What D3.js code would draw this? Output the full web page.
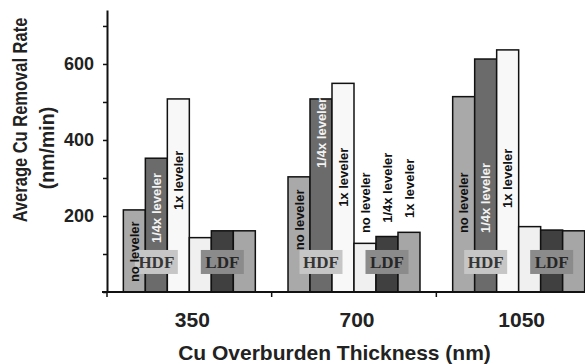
<!DOCTYPE html>
<html>
<head>
<meta charset="utf-8">
<script src="https://cdn.jsdelivr.net/npm/d3@7"></script>
<style>
  html, body { margin: 0; padding: 0; background: #fff; }
  svg { display: block; }
  text { font-family: "Liberation Sans", Arial, Helvetica, sans-serif; font-weight: bold; }
</style>
</head>
<body>
<svg id="chart" width="585" height="364"></svg>
<script>
// Cu overburden thickness groups (nm)
const categories = ["350", "700", "1050"];

// Six bars per group: three HDF runs, then three LDF runs
const seriesNames = ["HDF no leveler", "HDF 1/4x leveler", "HDF 1x leveler",
                     "LDF no leveler", "LDF 1/4x leveler", "LDF 1x leveler"];

// Average Cu removal rate (nm/min)
const hdfNoLeveler      = [216, 303, 514];
const hdfQuarterLeveler = [352, 508, 613];
const hdfFullLeveler    = [508, 549, 637];
const ldfNoLeveler      = [143, 128, 172];
const ldfQuarterLeveler = [161, 146, 163];
const ldfFullLeveler    = [161, 157, 161];

const seriesValues = [hdfNoLeveler, hdfQuarterLeveler, hdfFullLeveler,
                      ldfNoLeveler, ldfQuarterLeveler, ldfFullLeveler];

const barTexts = ["no leveler", "1/4x leveler", "1x leveler",
                  "no leveler", "1/4x leveler", "1x leveler"];
const dfNames = ["HDF", "LDF"];

const yTickValues = [0, 100, 200, 300, 400, 500, 600, 700];
const yTickLabels = ["", "", "200", "", "400", "", "600", ""];

// ---- styling / layout ----
const fills = ["#a9a9a9", "#6b6b6b", "#f8f8f8", "#f0f0f0", "#404040", "#a6a6a6"];
const textFills = ["#111", "#f2f2f2", "#111", "#111", "#111", "#111"];
const boxFills = ["#c6c6c6", "#8b8b8b"];
const boxTextFills = ["#353535", "#262626"];
// lower end of each rotated bar caption, on the value axis (null: no caption)
const captionStart = [
  [26, 129, 216, null, null, null],
  [110, 326, 224, 155, 182, 195],
  [155, 155, 221, null, null, null]
];

const svg = d3.select("#chart");

const x = d3.scaleBand().domain(categories).range([107, 601]).paddingInner(0).paddingOuter(0);
const xSub = d3.scaleBand().domain(d3.range(seriesNames.length))
  .range([0, x.bandwidth()]).paddingInner(0).paddingOuter(0.743);
const y = d3.scaleLinear().domain([0, 742]).range([292, 10]);

// bars
const groups = svg.append("g").selectAll("g")
  .data(categories)
  .join("g")
  .attr("transform", d => `translate(${x(d)},0)`);

groups.selectAll("rect")
  .data((c, gi) => seriesValues.map((vals, si) => ({ si, gi, v: vals[gi] })))
  .join("rect")
  .attr("x", d => xSub(d.si))
  .attr("width", xSub.bandwidth())
  .attr("y", d => y(d.v))
  .attr("height", d => y(0) - y(d.v))
  .attr("fill", d => fills[d.si])
  .attr("stroke", "#111")
  .attr("stroke-width", 1.5);

// HDF / LDF tags across each set of three bars
groups.each(function (c, gi) {
  const g = d3.select(this);
  dfNames.forEach((name, k) => {
    const cx = (xSub(k * 3) + xSub(k * 3 + 2) + xSub.bandwidth()) / 2;
    const cy = y(79);
    g.append("rect")
      .attr("x", cx - 21.5).attr("y", cy - 12)
      .attr("width", 43).attr("height", 24)
      .attr("fill", boxFills[k]);
    g.append("text")
      .attr("x", cx).attr("y", cy)
      .attr("dy", "0.35em")
      .attr("text-anchor", "middle")
      .style("font-family", '"Liberation Serif", "Times New Roman", serif')
      .style("font-size", "17px")
      .attr("fill", boxTextFills[k])
      .text(name);
  });
});

// rotated captions
groups.each(function (c, gi) {
  const g = d3.select(this);
  barTexts.forEach((t, si) => {
    const at = captionStart[gi][si];
    if (at === null) return;
    const cx = xSub(si) + xSub.bandwidth() / 2;
    g.append("text")
      .attr("transform", `translate(${cx},${y(at)}) rotate(-90)`)
      .attr("dy", "0.36em")
      .attr("text-anchor", "start")
      .style("font-size", "13px")
      .attr("fill", textFills[si])
      .text(t);
  });
});

// value axis
const yAxis = d3.axisLeft(y)
  .tickValues(yTickValues)
  .tickFormat((d, i) => yTickLabels[i])
  .tickSize(4)
  .tickPadding(9)
  .tickSizeOuter(0);
const yg = svg.append("g").attr("transform", "translate(107,0)").call(yAxis);
yg.select(".domain").attr("stroke", "#111").attr("stroke-width", 2);
yg.selectAll(".tick line").attr("stroke", "#111").attr("stroke-width", 1.5);
yg.selectAll(".tick text")
  .attr("fill", "#222")
  .style("font-size", "18px")
  .style("font-family", '"Liberation Sans", Arial, sans-serif')
  .style("font-weight", "bold");

// category axis: baseline with ticks on the group boundaries
svg.append("line")
  .attr("x1", 102).attr("x2", 601)
  .attr("y1", y(0)).attr("y2", y(0))
  .attr("stroke", "#111").attr("stroke-width", 2);
const bounds = categories.map(c => x(c)).concat([x(categories[categories.length - 1]) + x.bandwidth()]);
svg.append("g").selectAll("line")
  .data(bounds)
  .join("line")
  .attr("x1", d => d).attr("x2", d => d)
  .attr("y1", y(0)).attr("y2", y(0) + 5)
  .attr("stroke", "#111").attr("stroke-width", 1.5);

svg.append("g").selectAll("text")
  .data(categories)
  .join("text")
  .attr("x", d => x(d) + x.bandwidth() / 2 + 3)
  .attr("y", 327)
  .attr("text-anchor", "middle")
  .style("font-size", "21px")
  .attr("fill", "#222")
  .text(d => d);

// axis titles
svg.append("text")
  .attr("x", 334.5).attr("y", 360)
  .attr("text-anchor", "middle")
  .style("font-size", "21px")
  .attr("fill", "#222")
  .text("Cu Overburden Thickness (nm)");

svg.append("text")
  .attr("transform", "translate(27,120) rotate(-90) scale(1,1.2)")
  .attr("text-anchor", "middle")
  .style("font-size", "16.5px")
  .attr("fill", "#222")
  .text("Average Cu Removal Rate");

svg.append("text")
  .attr("transform", "translate(54,148) rotate(-90)")
  .attr("text-anchor", "middle")
  .style("font-size", "19.5px")
  .attr("fill", "#222")
  .text("(nm/min)");
</script>
</body>
</html>
